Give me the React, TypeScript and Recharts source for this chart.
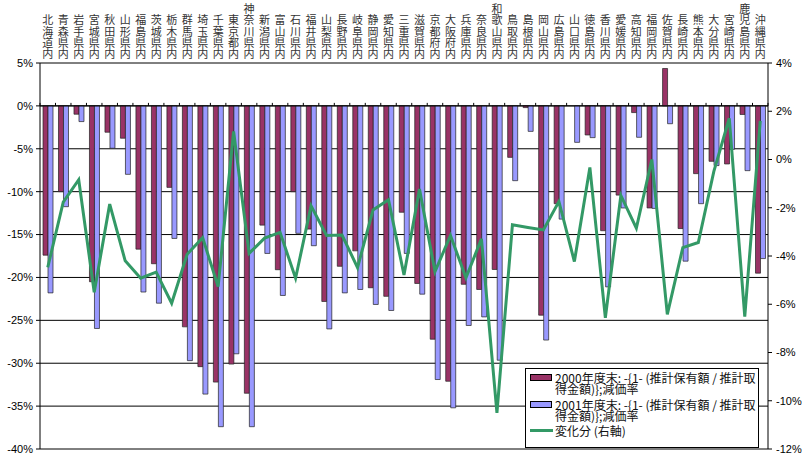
import {
  ComposedChart,
  Bar,
  Line,
  XAxis,
  YAxis,
  CartesianGrid,
  ReferenceLine,
} from "recharts";

const prefectures = [
  "北海道内", "青森県内", "岩手県内", "宮城県内", "秋田県内", "山形県内", "福島県内",
  "茨城県内", "栃木県内", "群馬県内", "埼玉県内", "千葉県内", "東京都内", "神奈川県内",
  "新潟県内", "富山県内", "石川県内", "福井県内", "山梨県内", "長野県内", "岐阜県内",
  "静岡県内", "愛知県内", "三重県内", "滋賀県内", "京都府内", "大阪府内", "兵庫県内",
  "奈良県内", "和歌山県内", "鳥取県内", "島根県内", "岡山県内", "広島県内", "山口県内",
  "徳島県内", "香川県内", "愛媛県内", "高知県内", "福岡県内", "佐賀県内", "長崎県内",
  "熊本県内", "大分県内", "宮崎県内", "鹿児島県内", "沖縄県内",
];

// 2000年度末 減価率 (%)
const rate2000 = [
  -17.4, -10.0, -0.97, -20.5, -3.07, -3.77, -16.7, -18.4, -9.5, -25.76, -30.4, -32.2,
  -30.1, -33.5, -13.9, -19.1, -10.0, -14.36, -22.8, -18.7, -16.9, -21.2, -22.2, -12.4,
  -20.7, -27.2, -32.1, -20.8, -21.4, -19.07, -6.0, -0.2, -24.4, -11.4, 0, -3.39,
  -14.55, -10.4, -0.78, -11.9, 4.36, -14.3, -7.9, -6.46, -6.77, -1.0, -19.5,
];

// 2001年度末 減価率 (%)
const rate2001 = [
  -21.8, -11.75, -1.83, -25.95, -4.94, -7.98, -21.7, -23.0, -15.45, -29.7, -33.6, -37.4,
  -28.9, -37.4, -17.2, -22.1, -14.86, -16.3, -26.0, -21.8, -21.4, -23.15, -23.85, -17.2,
  -21.95, -31.9, -35.2, -25.6, -24.6, -29.65, -8.72, -2.97, -27.3, -13.2, -4.25, -3.7,
  -21.1, -11.9, -3.66, -11.95, -2.08, -18.1, -11.4, -6.96, -5.06, -7.55, -17.8,
];

// 変化分（右軸） (%)
const change = [
  -4.47, -1.77, -0.84, -5.5, -1.85, -4.2, -4.92, -4.67, -5.96, -3.93, -3.24, -5.27,
  1.16, -3.89, -3.26, -3.02, -4.92, -1.92, -3.15, -3.13, -4.48, -2.09, -1.67, -4.79,
  -1.22, -4.65, -3.15, -4.9, -3.29, -10.5, -2.71, -2.82, -2.92, -1.74, -4.23, -0.33,
  -6.56, -1.49, -2.85, 0.0, -6.42, -3.65, -3.44, -0.5, 1.71, -6.51, 1.6,
];

const leftTicks = [5, 0, -5, -10, -15, -20, -25, -30, -35, -40];
const rightTicks = [4, 2, 0, -2, -4, -6, -8, -10, -12];

const MAROON = "#993366";
const BLUE = "#9999ff";
const GREEN = "#339966";
const AXIS_FONT = "'Liberation Sans', Arial, sans-serif";
const JP_FONT = "'Noto Sans CJK JP', sans-serif";

const legendItems = [
  { color: MAROON, l1: "2000年度末: -{1- (推計保有額 / 推計取", l2: "得金額)};減価率" },
  { color: BLUE, l1: "2001年度末: -{1- (推計保有額 / 推計取", l2: "得金額)};減価率" },
];

const data = prefectures.map((name, i) => ({
  name,
  r2000: rate2000[i],
  r2001: rate2001[i],
  change: change[i],
}));

const PLOT_TOP = 63;
const PLOT_H = 386;
const BAND = 728 / prefectures.length;
const ZERO_Y = PLOT_TOP + (5 / 45) * PLOT_H;
const STEP = 11.35;

// stacked characters, bottom-aligned, above the plot
const TopTick = (props: any) => {
  const { x, payload, index } = props;
  const chars = Array.from(String(payload.value));
  const n = chars.length;
  return (
    <g>
      {chars.map((c, k) => (
        <text
          key={k}
          x={x}
          y={58.3 - (n - 1 - k) * STEP}
          textAnchor="middle"
          fontSize={11}
          fontFamily={JP_FONT}
          fill="#333"
        >
          {c}
        </text>
      ))}
      <line x1={x - BAND / 2} x2={x - BAND / 2} y1={ZERO_Y - 3} y2={ZERO_Y} stroke="#000" />
      {index === prefectures.length - 1 && (
        <line x1={x + BAND / 2} x2={x + BAND / 2} y1={ZERO_Y - 3} y2={ZERO_Y} stroke="#000" />
      )}
    </g>
  );
};

const LegendBox = () => (
  <div
    style={{
      position: "absolute",
      left: 525,
      top: 368,
      width: 234,
      height: 80,
      border: "1px solid #000",
      background: "#fff",
      fontFamily: JP_FONT,
      fontSize: 12,
      lineHeight: "11px",
      color: "#111",
      boxSizing: "border-box",
    }}
  >
    {legendItems.map((it, i) => (
      <div
        key={it.l1}
        style={{ position: "absolute", left: 4, top: 3 + i * 26.7, whiteSpace: "nowrap" }}
      >
        <span
          style={{
            position: "absolute",
            left: 0,
            top: 2,
            width: 20,
            height: 5,
            background: it.color,
            border: "1px solid #000",
          }}
        />
        <div style={{ marginLeft: 25 }}>
          {it.l1}
          <br />
          {it.l2}
        </div>
      </div>
    ))}
    <div style={{ position: "absolute", left: 4, top: 56, whiteSpace: "nowrap" }}>
      <span
        style={{
          position: "absolute",
          left: 0,
          top: 4,
          width: 23,
          height: 3,
          background: GREEN,
        }}
      />
      <div style={{ marginLeft: 25 }}>変化分 (右軸)</div>
    </div>
  </div>
);

export default function App() {
  return (
    <div style={{ position: "absolute", left: 0, top: 0, width: 802, height: 456, background: "#fff" }}>
      <ComposedChart
        width={802}
        height={456}
        data={data}
        margin={{ top: 8, right: 0, bottom: 456 - PLOT_TOP - PLOT_H, left: 0 }}
        barGap={0}
      >
        <CartesianGrid yAxisId="left" vertical={false} stroke="#000" strokeWidth={1} />
        <XAxis
          dataKey="name"
          orientation="top"
          height={PLOT_TOP - 8}
          axisLine={false}
          tickLine={false}
          interval={0}
          tick={<TopTick />}
        />
        <YAxis
          yAxisId="left"
          domain={[-40, 5]}
          ticks={leftTicks}
          width={40}
          tickSize={4}
          tickMargin={3}
          axisLine={{ stroke: "#000" }}
          tickLine={{ stroke: "#000" }}
          tickFormatter={(v) => `${v}%`}
          tick={{ fontSize: 11, fontFamily: AXIS_FONT, fill: "#000" }}
          allowDataOverflow
        />
        <YAxis
          yAxisId="right"
          orientation="right"
          domain={[-12, 4]}
          ticks={rightTicks}
          width={34}
          tickSize={4}
          tickMargin={4}
          axisLine={{ stroke: "#000" }}
          tickLine={{ stroke: "#000" }}
          tickFormatter={(v) => `${v}%`}
          tick={{ fontSize: 11, fontFamily: AXIS_FONT, fill: "#000", textAnchor: "start" }}
          allowDataOverflow
        />
        <ReferenceLine yAxisId="left" y={0} stroke="#000" strokeWidth={1} />
        <Bar
          yAxisId="left"
          dataKey="r2000"
          fill={MAROON}
          stroke="#222"
          strokeWidth={0.7}
          barSize={5}
          isAnimationActive={false}
        />
        <Bar
          yAxisId="left"
          dataKey="r2001"
          fill={BLUE}
          stroke="#222"
          strokeWidth={0.7}
          barSize={5}
          isAnimationActive={false}
        />
        <Line
          yAxisId="right"
          dataKey="change"
          type="linear"
          stroke={GREEN}
          strokeWidth={3}
          dot={false}
          activeDot={false}
          isAnimationActive={false}
        />
      </ComposedChart>
      <LegendBox />
    </div>
  );
}
